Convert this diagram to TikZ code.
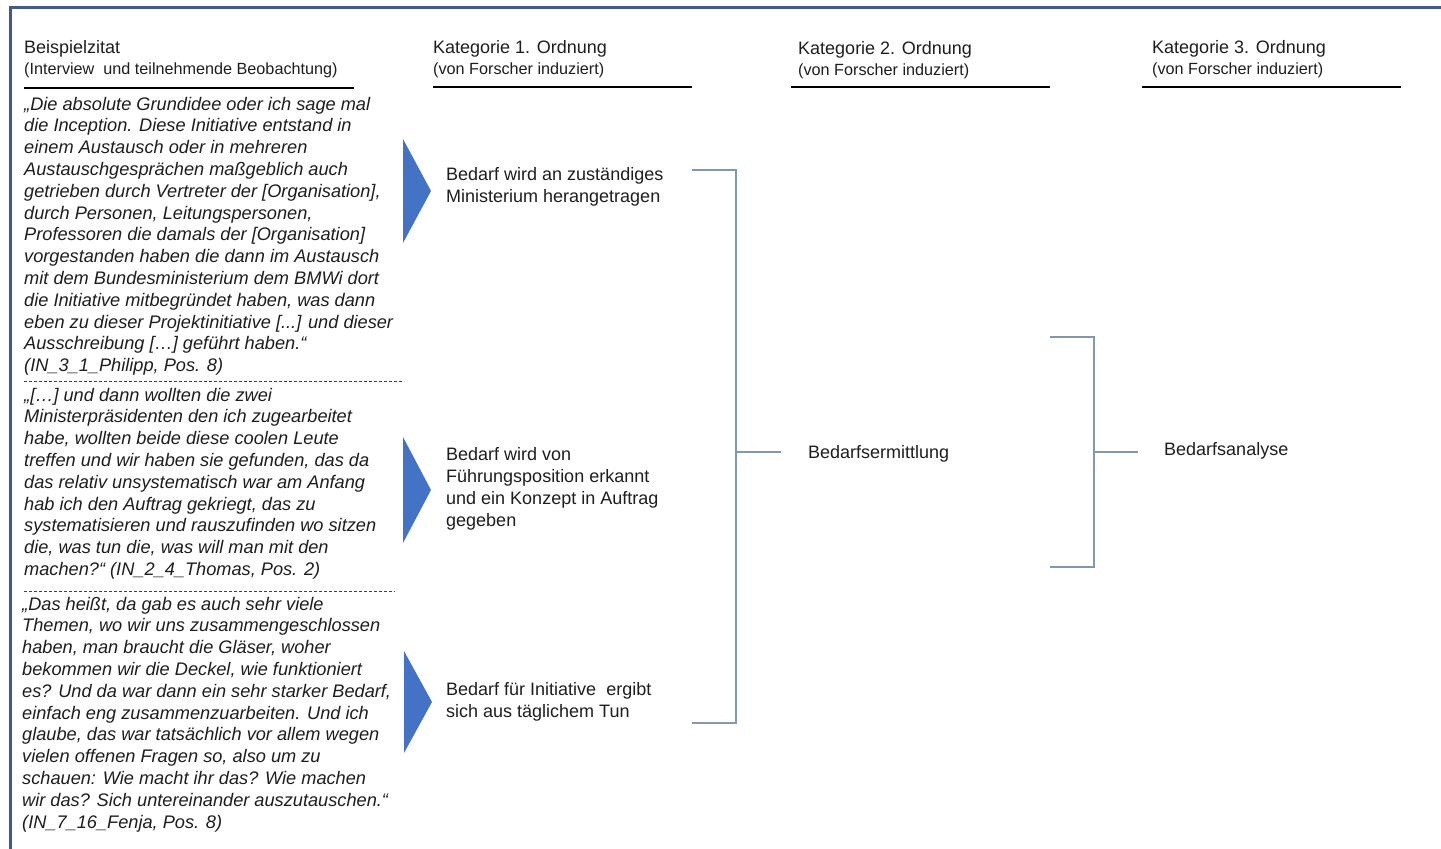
\documentclass[tikz,border=0pt]{standalone}
\usepackage{fontspec}
\setmainfont{Liberation Sans}
\definecolor{framec}{HTML}{41598F}
\definecolor{arrowc}{HTML}{4472C4}
\definecolor{brkc}{HTML}{8497B0}
\definecolor{txtc}{HTML}{1E1E1E}
% stacked lines whose reference point is the first line's baseline
\newcommand\qlines[1]{\begin{tabular}[t]{@{}l@{}}#1\end{tabular}}
\begin{document}
\begin{tikzpicture}[x=1pt,y=-1pt,
  head/.style={anchor=base west,inner sep=0pt,text=txtc,
    font=\fontsize{18}{21.5}\selectfont},
  sub/.style={anchor=base west,inner sep=0pt,text=txtc,
    font=\fontsize{16.2}{19}\selectfont},
  quote/.style={anchor=base west,inner sep=0pt,text=txtc,
    font=\fontsize{18.2}{21.8}\selectfont\itshape},
  cat/.style={anchor=base west,inner sep=0pt,text=txtc,
    font=\fontsize{18}{22}\selectfont},
  rulel/.style={line width=1.4pt,black},
  sepl/.style={line width=1pt,black!75,dash pattern=on 3pt off 2pt},
  brk/.style={line width=1.5pt,brkc},
  wedge/.style={fill=arrowc,draw=none}]
\useasboundingbox (0,0) rectangle (1441,849);
\fill[white] (0,0) rectangle (1441,849);

% outer frame (top and left edge)
\draw[framec,line width=3pt] (10,849) -- (10,7) -- (1441,7);

% column headers
\node[head] (h1) at (24,53.5) {Beispielzitat};
\node[sub]  (s1) at (24,74.5) {(Interview \ und teilnehmende Beobachtung)};
\node[head] (h2) at (433,53.5) {Kategorie 1. Ordnung};
\node[sub]  (s2) at (433,74.5) {(von Forscher induziert)};
\node[head] (h3) at (798,54) {Kategorie 2. Ordnung};
\node[sub]  (s3) at (798,75) {(von Forscher induziert)};
\node[head] (h4) at (1152,53.5) {Kategorie 3. Ordnung};
\node[sub]  (s4) at (1152,74.5) {(von Forscher induziert)};

% header rules
\coordinate (r1a) at (24,88);   \coordinate (r1b) at (354,88);
\coordinate (r2a) at (433,87);  \coordinate (r2b) at (692,87);
\coordinate (r3a) at (791,87);  \coordinate (r3b) at (1050,87);
\coordinate (r4a) at (1142,87); \coordinate (r4b) at (1401,87);
\draw[rulel] (r1a) -- (r1b);
\draw[rulel] (r2a) -- (r2b);
\draw[rulel] (r3a) -- (r3b);
\draw[rulel] (r4a) -- (r4b);

% quotations
\node[quote] (q1) at (24,110) {\qlines{„Die absolute Grundidee oder ich sage mal\\
die Inception. Diese Initiative entstand in\\
einem Austausch oder in mehreren\\
Austauschgesprächen maßgeblich auch\\
getrieben durch Vertreter der [Organisation],\\
durch Personen, Leitungspersonen,\\
Professoren die damals der [Organisation]\\
vorgestanden haben die dann im Austausch\\
mit dem Bundesministerium dem BMWi dort\\
die Initiative mitbegründet haben, was dann\\
eben zu dieser Projektinitiative [...] und dieser\\
Ausschreibung […] geführt haben.“\\
(IN\_3\_1\_Philipp, Pos. 8)}};

\node[quote] (q2) at (24,401) {\qlines{„[…] und dann wollten die zwei\\
Ministerpräsidenten den ich zugearbeitet\\
habe, wollten beide diese coolen Leute\\
treffen und wir haben sie gefunden, das da\\
das relativ unsystematisch war am Anfang\\
hab ich den Auftrag gekriegt, das zu\\
systematisieren und rauszufinden wo sitzen\\
die, was tun die, was will man mit den\\
machen?“ (IN\_2\_4\_Thomas, Pos. 2)}};

\node[quote] (q3) at (22,610) {\qlines{„Das heißt, da gab es auch sehr viele\\
Themen, wo wir uns zusammengeschlossen\\
haben, man braucht die Gläser, woher\\
bekommen wir die Deckel, wie funktioniert\\
es? Und da war dann ein sehr starker Bedarf,\\
einfach eng zusammenzuarbeiten. Und ich\\
glaube, das war tatsächlich vor allem wegen\\
vielen offenen Fragen so, also um zu\\
schauen: Wie macht ihr das? Wie machen\\
wir das? Sich untereinander auszutauschen.“\\
(IN\_7\_16\_Fenja, Pos. 8)}};

% dashed separators between quotations
\coordinate (d1a) at (24,381); \coordinate (d1b) at (404,381);
\coordinate (d2a) at (24,591); \coordinate (d2b) at (395,591);
\draw[sepl] (d1a) -- (d1b);
\draw[sepl] (d2a) -- (d2b);

% blue wedges pointing to the first-order categories
\fill[wedge] (403,139) -- (431,191) -- (403,243) -- cycle;
\fill[wedge] (403,437) -- (431,490) -- (403,543) -- cycle;
\fill[wedge] (404,651) -- (432,702) -- (404,753) -- cycle;

% first-order categories
\node[cat] (c1a) at (446,180) {\qlines{Bedarf wird an zuständiges\\Ministerium herangetragen}};
\node[cat] (c1b) at (446,460) {\qlines{Bedarf wird von\\Führungsposition erkannt\\und ein Konzept in Auftrag\\gegeben}};
\node[cat] (c1c) at (446,695) {\qlines{Bedarf für Initiative \ ergibt\\sich aus täglichem Tun}};

% second- and third-order categories
\node[cat] (c2) at (808,458) {Bedarfsermittlung};
\node[cat] (c3) at (1164,455) {Bedarfsanalyse};

% bracket joining the first-order categories
\coordinate (b1t) at (692,170);
\coordinate (b1b) at (692,723);
\coordinate (b1v) at (736,452);
\coordinate (b1m) at (781,452);
\draw[brk] (b1t) -- (b1t -| b1v) -- (b1b -| b1v) -- (b1b);
\draw[brk] (b1v) -- (b1m);

% bracket leading to the third-order category
\coordinate (b2t) at (1050,337);
\coordinate (b2b) at (1050,567);
\coordinate (b2v) at (1094,452);
\coordinate (b2m) at (1138,452);
\draw[brk] (b2t) -- (b2t -| b2v) -- (b2b -| b2v) -- (b2b);
\draw[brk] (b2v) -- (b2m);
\end{tikzpicture}
\end{document}
